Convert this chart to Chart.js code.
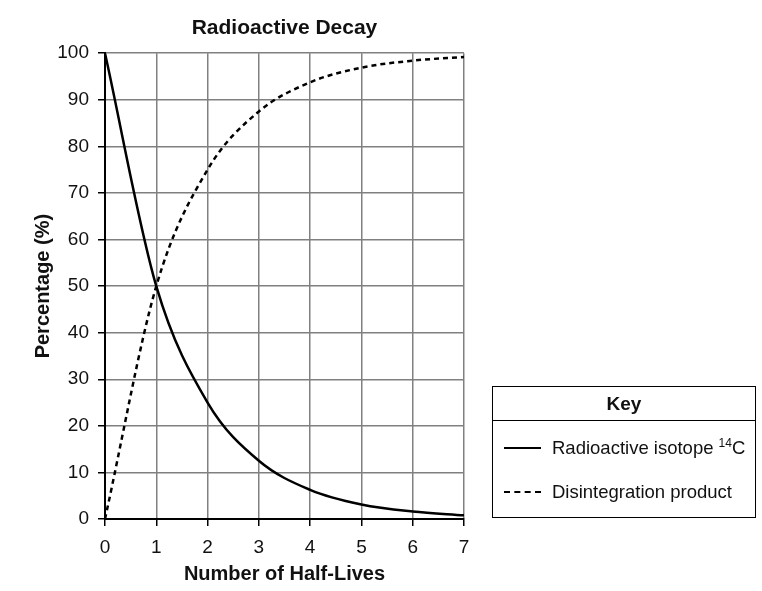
<!DOCTYPE html>
<html>
<head>
<meta charset="utf-8">
<script src="https://cdn.jsdelivr.net/npm/chart.js@4"></script>
<style>
    html, body { margin: 0; padding: 0; background: #fff; }
    #wrap { position: relative; width: 762px; height: 591px; }
    #key {
        position: absolute; left: 492px; top: 386px; width: 264px; height: 132px;
        border: 1.5px solid #000; box-sizing: border-box;
        font-family: "Liberation Sans", Arial, sans-serif; font-size: 18.5px; color: #111;
    }
    #key .head { height: 33px; line-height: 33px; text-align: center; font-weight: bold; font-size: 19px; border-bottom: 1.5px solid #000; }
    #key .row { position: absolute; left: 11px; display: flex; align-items: center; }
    #key .sample { width: 37px; height: 0; margin-right: 11px; }
    #key sup { font-size: 12px; }
</style>
</head>
<body>
<div id="wrap">
    <canvas id="decayChart" width="762" height="591"></canvas>
    <div id="key"><div class="head">Key</div></div>
</div>
<script>
// Data
const halfLives = [0, 1, 2, 3, 4, 5, 6, 7];
const isotope = [100, 50, 25, 12.5, 6.25, 3.1, 1.6, 0.8];
const product = [0, 50, 75, 87.5, 93.75, 96.9, 98.4, 99.2];
const yTicks = [0, 10, 20, 30, 40, 50, 60, 70, 80, 90, 100];

const seriesLabels = ['Radioactive isotope ', 'Disintegration product'];
const FONT = '"Liberation Sans", Arial, sans-serif';

const ctx = document.getElementById('decayChart').getContext('2d');

const chart = new Chart(ctx, {
    type: 'line',
    data: {
        datasets: [{
            label: seriesLabels[0],
            data: halfLives.map((x, i) => ({ x: x, y: isotope[i] })),
            borderColor: '#000',
            borderWidth: 2.5,
            pointRadius: 0,
            cubicInterpolationMode: 'monotone'
        }, {
            label: seriesLabels[1],
            data: halfLives.map((x, i) => ({ x: x, y: product[i] })),
            borderColor: '#000',
            borderWidth: 2.5,
            borderDash: [5, 4],
            pointRadius: 0,
            cubicInterpolationMode: 'monotone'
        }]
    },
    options: {
        responsive: false,
        animation: false,
        layout: { padding: { left: 0, right: 298, top: 0, bottom: 0 } },
        plugins: {
            legend: { display: false },
            tooltip: { enabled: false },
            title: {
                display: true,
                text: 'Radioactive Decay',
                fullSize: false,
                color: '#111',
                font: { family: FONT, size: 21, weight: 'bold', lineHeight: 1.2 },
                padding: { top: 16, bottom: 12 }
            }
        },
        scales: {
            x: {
                type: 'linear',
                min: 0, max: 7,
                afterFit: s => { s.height = 72; },
                afterBuildTicks: s => { s.ticks = halfLives.map(v => ({ value: v })); },
                grid: { color: '#808080', lineWidth: 1.5, tickColor: '#000', tickLength: 7, tickWidth: 1.5 },
                border: { color: '#000', width: 2 },
                ticks: { color: '#111', font: { family: FONT, size: 19 }, padding: 10, maxRotation: 0 },
                title: {
                    display: true, text: 'Number of Half-Lives', color: '#111',
                    font: { family: FONT, size: 20, weight: 'bold', lineHeight: 1.2 },
                    padding: { top: 0, bottom: 5 }
                }
            },
            y: {
                min: 0, max: 100,
                afterFit: s => { s.width = 105; },
                afterBuildTicks: s => { s.ticks = yTicks.map(v => ({ value: v })); },
                grid: { color: '#808080', lineWidth: 1.5, tickColor: '#000', tickLength: 7, tickWidth: 1.5 },
                border: { color: '#000', width: 2 },
                ticks: { color: '#111', font: { family: FONT, size: 19 }, padding: 9 },
                title: {
                    display: true, text: 'Percentage (%)', color: '#111',
                    font: { family: FONT, size: 20, weight: 'bold', lineHeight: 1.2 },
                    padding: { top: 31, bottom: 0 }
                }
            }
        }
    }
});

// Key built from the datasets
const key = document.getElementById('key');
chart.data.datasets.forEach((ds, i) => {
    const row = document.createElement('div');
    row.className = 'row';
    row.style.top = (i === 0 ? 49 : 94) + 'px';
    const line = ds.borderDash ? 'border-top: 2.5px dashed #000;' : 'border-top: 2.5px solid #000;';
    row.innerHTML = `<span class="sample" style="${line}"></span><span>${ds.label}${i === 0 ? '<sup>14</sup>C' : ''}</span>`;
    key.appendChild(row);
});
</script>
</body>
</html>
